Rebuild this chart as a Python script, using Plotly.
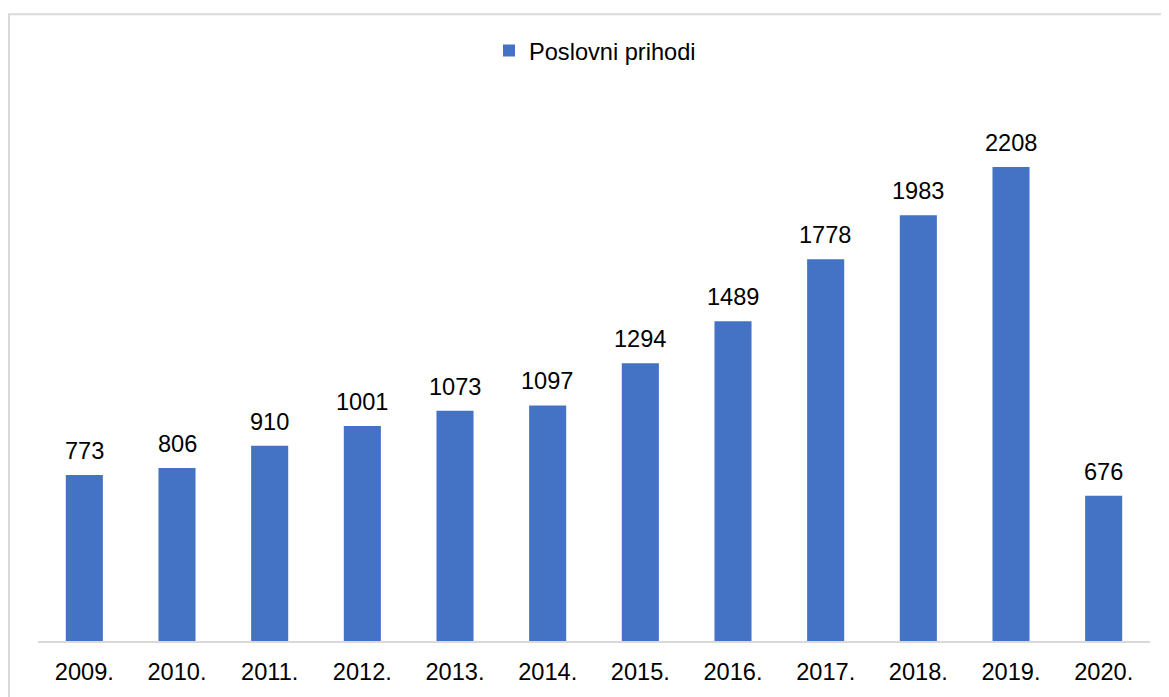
import plotly.graph_objects as go

years = ["2009.", "2010.", "2011.", "2012.", "2013.", "2014.", "2015.", "2016.", "2017.", "2018.", "2019.", "2020."]
values = [773, 806, 910, 1001, 1073, 1097, 1294, 1489, 1778, 1983, 2208, 676]
series_name = "Poslovni prihodi"

OFF = 8  # page body margin
W, H = 1169 - OFF, 697 - OFF
L, R, T, B = 38 - OFF, 19, 100 - OFF, 48
pw, ph = W - L - R, H - T - B

def px_x(x):
    # x in screen pixels
    return (x - OFF - L) / pw

def px_y(y):
    return (H - B - (y - OFF)) / ph

font = dict(family="Liberation Sans, Arial, sans-serif", size=23.6, color="#000000")

fig = go.Figure()
fig.add_trace(go.Bar(
    x=list(range(len(years))), y=values, name=series_name,
    marker=dict(color="#4472C4", line=dict(width=0)),
    showlegend=True,
))

for i, v in enumerate(values):
    fig.add_annotation(x=i, y=v, text=str(v), showarrow=False,
                       yanchor="bottom", yshift=9, font=font)

fig.add_shape(type="rect", xref="paper", yref="paper",
              x0=px_x(9), x1=px_x(1185), y0=px_y(720), y1=px_y(13),
              line=dict(color="#d9d9d9", width=2), fillcolor="rgba(0,0,0,0)", layer="below")

fig.update_layout(
    width=W, height=H,
    margin=dict(l=L, r=R, t=T, b=B),
    paper_bgcolor="white", plot_bgcolor="white",
    font=font,
    bargap=0.6,
    legend=dict(orientation="h", x=px_x(595), xanchor="center", y=px_y(50), yanchor="middle",
                font=font, itemwidth=30),
    xaxis=dict(type="linear", range=[-0.5, len(years) - 0.5],
               tickmode="array", tickvals=list(range(len(years))), ticktext=years,
               showline=True, linecolor="#d9d9d9", linewidth=2, showgrid=False, zeroline=False,
               ticks="outside", ticklen=9, tickcolor="rgba(0,0,0,0)", tickfont=font),
    yaxis=dict(range=[0, 2520], visible=False, showgrid=False),
)

fig.write_html("out.html")
